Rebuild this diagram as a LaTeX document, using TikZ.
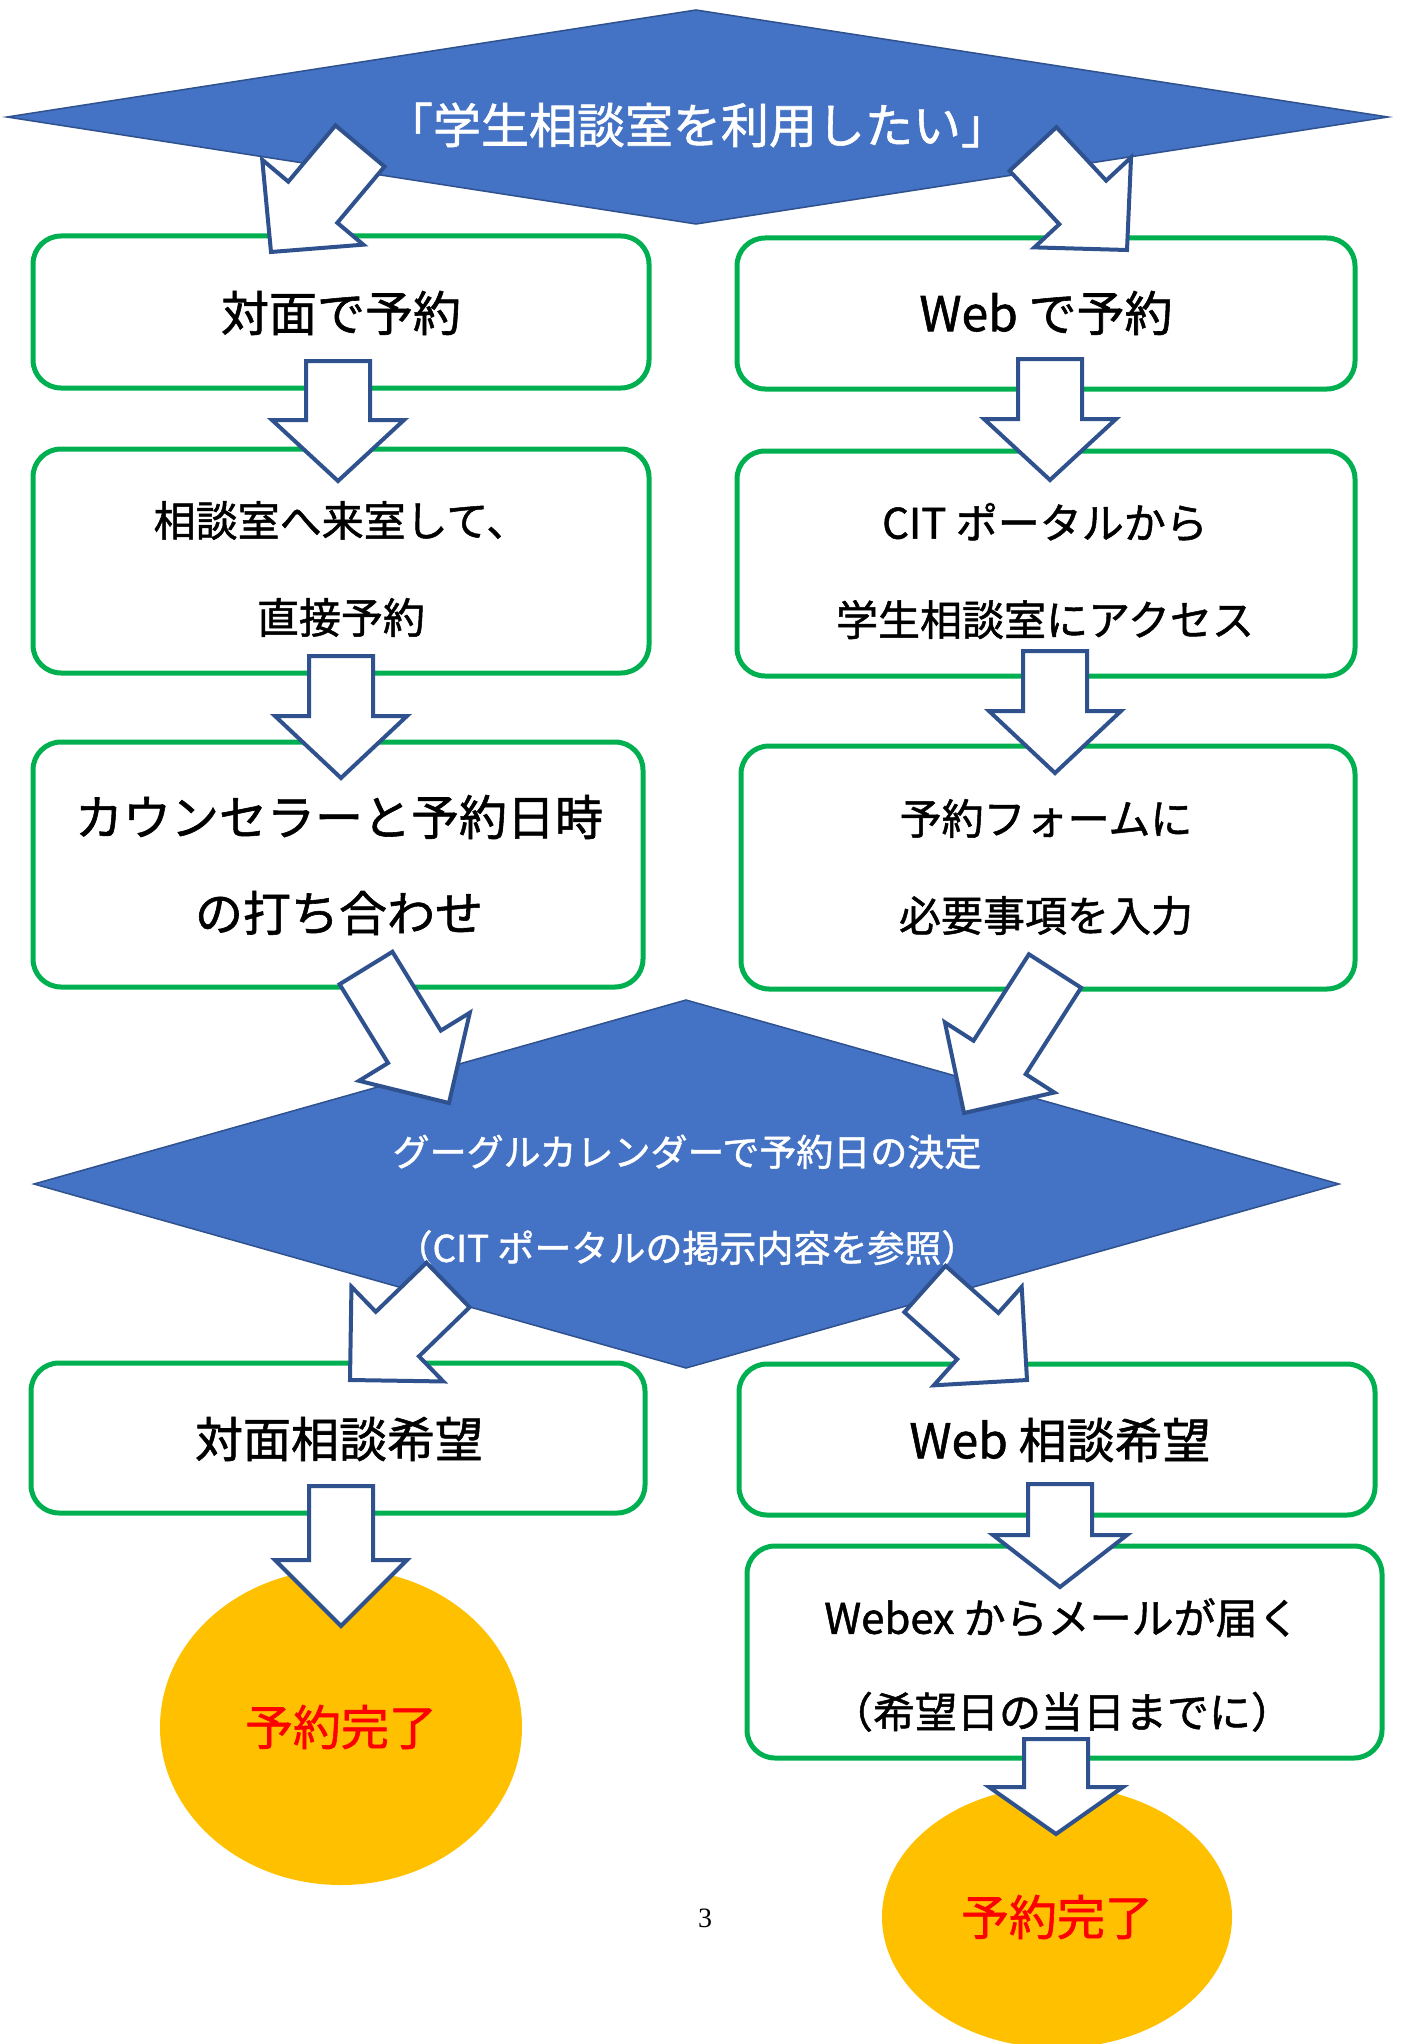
\documentclass[tikz,border=0pt]{standalone}
\usepackage{fontspec}
\setmainfont{Noto Sans CJK JP}[UprightFeatures={FakeBold=1.2}]
\newfontfamily\pagefont{Liberation Serif}
\usetikzlibrary{calc,shapes.geometric}
\definecolor{boxgreen}{HTML}{00B050}
\definecolor{dfill}{HTML}{4472C4}
\definecolor{dborder}{HTML}{2F528F}
\definecolor{ellcol}{HTML}{FFC000}
% #1 tail, #2 tip, #3 shaft half width, #4 head half width, #5 head length
\newcommand\blockarrow[5]{%
  \path (#1) coordinate (bs) (#2) coordinate (bt);
  \path ($(bt)!#5!(bs)$) coordinate (bb);
  \draw[barrow] ($(bs)!#3!90:(bt)$) -- ($(bb)!#3!90:(bt)$) -- ($(bb)!#4!90:(bt)$) -- (bt)
    -- ($(bb)!#4!-90:(bt)$) -- ($(bb)!#3!-90:(bt)$) -- ($(bs)!#3!-90:(bt)$) -- cycle;
}
\begin{document}
\begin{tikzpicture}[x=1pt,y=-1pt,
  rbox/.style={draw=boxgreen, line width=5pt, rounded corners=28pt, fill=white, inner sep=0pt},
  dmd/.style={draw=dborder, line width=1.5pt, fill=dfill},
  barrow/.style={draw=dborder, line width=4pt, fill=white, line join=miter},
  tbig/.style={font=\fontsize{48}{58}\selectfont, inner sep=0pt, align=center},
  tmid/.style={font=\fontsize{42}{97}\selectfont, inner sep=0pt, align=center},
  tb3/.style={font=\fontsize{48}{96}\selectfont, inner sep=0pt, align=center},
  tdm/.style={font=\fontsize{37}{96}\selectfont, inner sep=0pt, align=center, text=white},
  ell/.style={ellipse, fill=ellcol, inner sep=0pt, font=\fontsize{48}{58}\selectfont, text=red}
]
\useasboundingbox (0,0) rectangle (1400,2044);
\fill[white] (0,0) rectangle (1400,2044);

% top diamond
\coordinate (d1l) at (7,117);
\coordinate (d1t) at (696,10);
\coordinate (d1r) at (1388,117);
\coordinate (d1b) at (696,224);
\draw[dmd] (d1l) -- (d1t) -- (d1r) -- (d1b) -- cycle;
\node[tbig, text=white] (d1txt) at (697,125) {「学生相談室を利用したい」};

% boxes row 1
\node[rbox, minimum width=616pt, minimum height=152pt] (b1L) at (341,312) {};
\node[tbig] (t1L) at (341,313) {対面で予約};
\node[rbox, minimum width=618pt, minimum height=151pt] (b1R) at (1046,313.5) {};
\node[tbig] (t1R) at (1046,313) {Web で予約};

% boxes row 2
\node[rbox, minimum width=616pt, minimum height=224pt] (b2L) at (341,561) {};
\node[tmid] (t2L) at (341,569) {相談室へ来室して、\\直接予約};
\node[rbox, minimum width=618pt, minimum height=225pt] (b2R) at (1046,563.5) {};
\node[tmid] (t2R) at (1045,571) {CIT ポータルから\\学生相談室にアクセス};

% boxes row 3
\node[rbox, minimum width=610pt, minimum height=245pt] (b3L) at (338,864.5) {};
\node[tb3] (t3L) at (339,865) {カウンセラーと予約日時\\の打ち合わせ};
\node[rbox, minimum width=614pt, minimum height=243pt] (b3R) at (1048,867.5) {};
\node[tmid] (t3R) at (1046,867) {予約フォームに\\必要事項を入力};

% middle diamond
\coordinate (d2l) at (34,1184);
\coordinate (d2t) at (686,1000);
\coordinate (d2r) at (1339,1184);
\coordinate (d2b) at (686,1368);
\draw[dmd] (d2l) -- (d2t) -- (d2r) -- (d2b) -- cycle;
\node[tdm] (d2txt) at (687,1200) {グーグルカレンダーで予約日の決定\\（CIT ポータルの掲示内容を参照）};

% boxes row 4
\node[rbox, minimum width=614pt, minimum height=150pt] (b4L) at (338,1438) {};
\node[tbig] (t4L) at (339,1439) {対面相談希望};
\node[rbox, minimum width=636pt, minimum height=151pt] (b4R) at (1057,1439.5) {};
\node[tbig] (t4R) at (1060,1440) {Web 相談希望};

% box 5
\node[rbox, minimum width=635pt, minimum height=212pt] (b5R) at (1064.5,1652) {};
\node[tmid, font=\fontsize{42}{94}\selectfont] (t5R) at (1062,1665) {Webex からメールが届く\\（希望日の当日までに）};

% ellipses
\node[ell, minimum width=362pt, minimum height=316pt] (e1) at (341,1727) {予約完了};
\node[ell, minimum width=350pt, minimum height=262pt] (e2) at (1057,1917) {予約完了};

% page number
\node[inner sep=0pt, font=\pagefont\fontsize{28}{34}\selectfont] (pg) at (705,1918) {3};

% arrows
\coordinate (aTLs) at (360,146);  \coordinate (aTLt) at (271,252);
\coordinate (aTRs) at (1033,149); \coordinate (aTRt) at (1127,250);
\coordinate (a2Ls) at (338,361);  \coordinate (a2Lt) at (338,481);
\coordinate (a2Rs) at (1050,359); \coordinate (a2Rt) at (1050,480);
\coordinate (a3Ls) at (341,656);  \coordinate (a3Lt) at (341,778);
\coordinate (a3Rs) at (1055,651); \coordinate (a3Rt) at (1055,773);
\coordinate (aMLs) at (366,968);  \coordinate (aMLt) at (449,1103);
\coordinate (aMRs) at (1055,971); \coordinate (aMRt) at (964,1113);
\coordinate (aBLs) at (448,1285); \coordinate (aBLt) at (350,1380);
\coordinate (aBRs) at (925,1289); \coordinate (aBRt) at (1027,1380);
\coordinate (a5Ls) at (341,1486); \coordinate (a5Lt) at (341,1626);
\coordinate (a5Rs) at (1060,1484);\coordinate (a5Rt) at (1060,1587);
\coordinate (a6Rs) at (1056,1739);\coordinate (a6Rt) at (1056,1834);

\blockarrow{aTLs}{aTLt}{32pt}{66pt}{65pt}
\blockarrow{aTRs}{aTRt}{32pt}{66pt}{65pt}
\blockarrow{a2Ls}{a2Lt}{32pt}{66pt}{61pt}
\blockarrow{a2Rs}{a2Rt}{32pt}{66pt}{61pt}
\blockarrow{a3Ls}{a3Lt}{32pt}{66pt}{62pt}
\blockarrow{a3Rs}{a3Rt}{32pt}{66pt}{62pt}
\blockarrow{aMLs}{aMLt}{31pt}{65pt}{66pt}
\blockarrow{aMRs}{aMRt}{31pt}{65pt}{66pt}
\blockarrow{aBLs}{aBLt}{31pt}{66pt}{66pt}
\blockarrow{aBRs}{aBRt}{31pt}{66pt}{66pt}
\blockarrow{a5Ls}{a5Lt}{32pt}{66pt}{66pt}
\blockarrow{a5Rs}{a5Rt}{32pt}{67pt}{52pt}
\blockarrow{a6Rs}{a6Rt}{32pt}{67pt}{47pt}
\end{tikzpicture}
\end{document}
